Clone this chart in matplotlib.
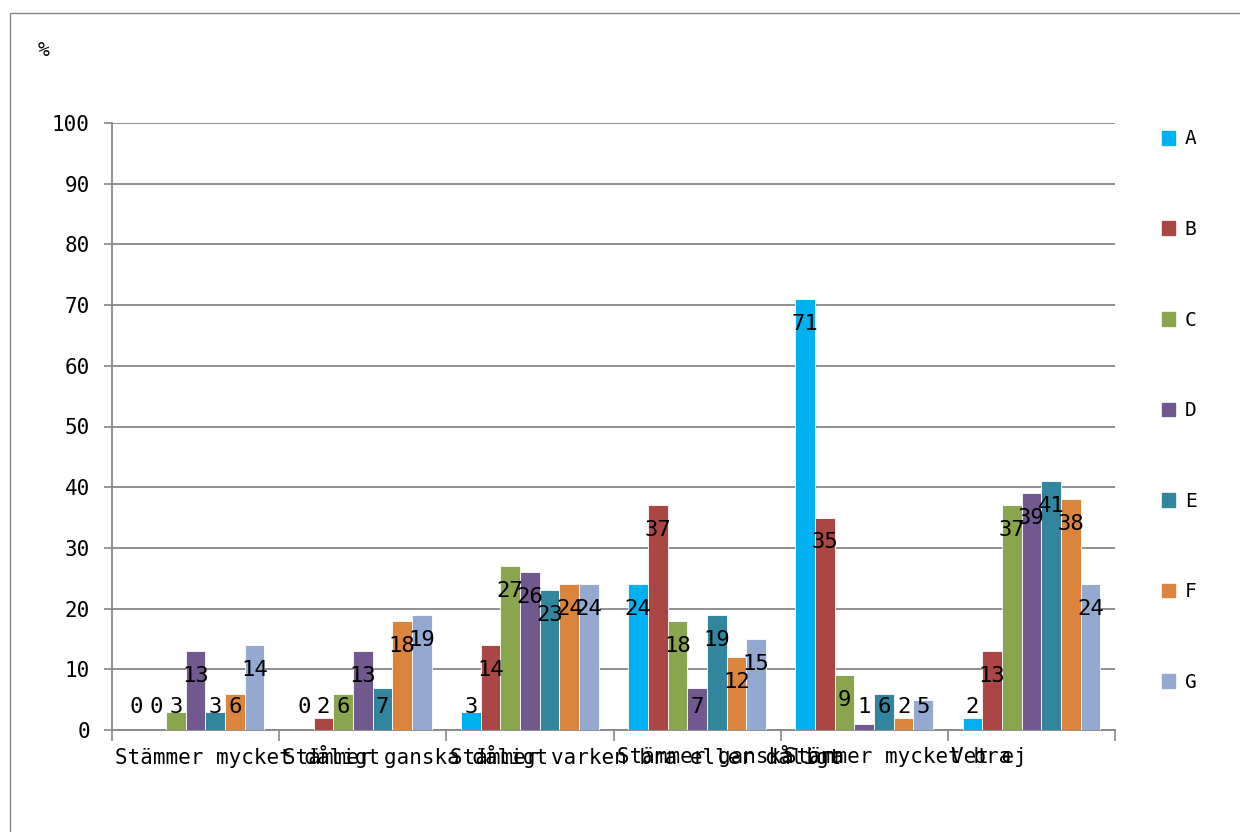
import numpy as np
import matplotlib
matplotlib.use("Agg")
import matplotlib.pyplot as plt
from matplotlib.patches import Patch, Rectangle

categories = [
    "Stämmer mycket dåligt",
    "Stämmer ganska dåligt",
    "Stämmer varken bra eller dåligt",
    "Stämmer ganska bra",
    "Stämmer mycket bra",
    "Vet ej",
]
series_names = ["A", "B", "C", "D", "E", "F", "G"]
vals_a = [0, 0, 3, 24, 71, 2]
vals_b = [0, 2, 14, 37, 35, 13]
vals_c = [3, 6, 27, 18, 9, 37]
vals_d = [13, 13, 26, 7, 1, 39]
vals_e = [3, 7, 23, 19, 6, 41]
vals_f = [6, 18, 24, 12, 2, 38]
vals_g = [14, 19, 24, 15, 5, 24]
y_ticks = [0, 10, 20, 30, 40, 50, 60, 70, 80, 90, 100]

all_vals = [vals_a, vals_b, vals_c, vals_d, vals_e, vals_f, vals_g]
colors = ["#00B0F0", "#AA4643", "#89A54E", "#71588F", "#31859C", "#DB843D", "#93A9CF"]

plt.rcParams["font.family"] = ["DejaVu Sans Mono", "DejaVu Sans"]
grey = "#878787"

fig = plt.figure(figsize=(12.4, 8.32), dpi=100)
ax = fig.add_axes([112 / 1240, 102 / 832, 1003 / 1240, 607 / 832])

# outer chart border (cut off at right/bottom like the original)
fig.patches.append(Rectangle((10 / 1240, -0.1), 1.2, 1 - 13 / 832 + 0.1,
                             transform=fig.transFigure, fill=False,
                             edgecolor=grey, linewidth=1.0, clip_on=False))

x = np.arange(len(categories))
w = 1 / 8.5
for i, vals in enumerate(all_vals):
    pos = x + (i - 3) * w
    ax.bar(pos, vals, width=w, color=colors[i], edgecolor="white",
           linewidth=0.6, zorder=3, label=series_names[i])
    for px, v in zip(pos, vals):
        ax.text(px, max(v - 4.1, 3.8), str(v), ha="center", va="center",
                fontsize=16, color="black", zorder=5)

ax.set_xlim(-0.5, len(categories) - 0.5)
ax.set_ylim(0, 100)
ax.set_yticks(y_ticks)
ax.set_yticklabels([str(t) for t in y_ticks], fontsize=15)
ax.yaxis.grid(True, color=grey, linewidth=1.3, zorder=0)
ax.set_axisbelow(True)

ax.set_xticks(np.arange(-0.5, len(categories), 1.0))
ax.set_xticklabels([])
ax.tick_params(axis="x", length=8, color=grey, width=1.2)
ax.tick_params(axis="y", length=6, color=grey, width=1.2, pad=10)

for s in ["top", "right"]:
    ax.spines[s].set_visible(False)
for s in ["left", "bottom"]:
    ax.spines[s].set_color(grey)
    ax.spines[s].set_linewidth(1.3)

# category labels, left aligned at each slot start (they overlap as in the original)
for i, lab in enumerate(categories):
    ax.text(i - 0.5 + 0.02, -4.4, lab, ha="left", va="center", fontsize=15,
            transform=ax.transData, clip_on=False)

fig.text(43 / 1240, 1 - 50 / 832, "%", ha="center", va="center", fontsize=14)

handles = [Patch(facecolor=c, edgecolor=c) for c in colors]
fig.legend(handles, series_names, loc="upper left",
           bbox_to_anchor=(1144 / 1240, 1 - 112 / 832), frameon=False,
           fontsize=14, handlelength=0.7, handleheight=0.7, handletextpad=0.5,
           labelspacing=3.68)

fig.savefig("out.png", dpi=100)
plt.close()
